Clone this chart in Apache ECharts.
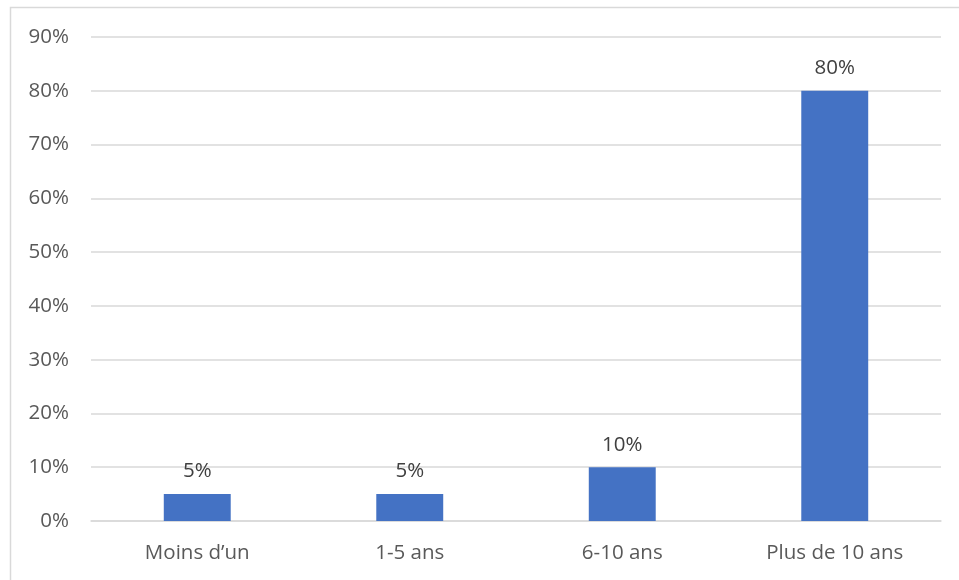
<!DOCTYPE html>
<html>
<head>
<meta charset="utf-8">
<script src="https://cdn.jsdelivr.net/npm/echarts@6/dist/echarts.min.js"></script>
<style>
html, body { margin: 0; padding: 0; background: #fff; }
#chart { width: 959px; height: 580px; }
</style>
</head>
<body>
<div id="chart"></div>
<script>
// Ancienneté : répartition des répondants
const categories = ['Moins d\u2019un', '1-5 ans', '6-10 ans', 'Plus de 10 ans'];
const values = [5, 5, 10, 80];
const yTicks = [0, 10, 20, 30, 40, 50, 60, 70, 80, 90];

const chart = echarts.init(document.getElementById('chart'), null, { renderer: 'canvas' });
const font = '"Open Sans", "Liberation Sans", sans-serif';

chart.setOption({
  animation: false,
  backgroundColor: '#ffffff',
  graphic: [{
    type: 'rect',
    shape: { x: 10.5, y: 7.5, width: 960, height: 600 },
    style: { fill: 'none', stroke: '#d9d9d9', lineWidth: 1.5 },
    silent: true
  }],
  grid: { left: 91, right: 18, top: 37, bottom: 59 },
  xAxis: {
    type: 'category',
    data: categories,
    axisLine: { show: true, lineStyle: { color: '#d9d9d9', width: 1.5 } },
    axisTick: { show: false },
    axisLabel: { color: '#595959', fontSize: 20.5, fontFamily: font, margin: 22 }
  },
  yAxis: {
    type: 'value',
    min: yTicks[0],
    max: yTicks[yTicks.length - 1],
    interval: 10,
    axisLine: { show: false },
    axisTick: { show: false },
    splitLine: { lineStyle: { color: '#d9d9d9', width: 1.5 } },
    axisLabel: { color: '#595959', fontSize: 20.5, fontFamily: font, margin: 22, formatter: v => v + '%' }
  },
  series: [{
    type: 'bar',
    data: values,
    barWidth: '31.5%',
    itemStyle: { color: '#4472c4' },
    label: {
      show: true,
      position: 'top',
      distance: 12,
      color: '#404040',
      fontSize: 20.5,
      fontFamily: font,
      formatter: p => p.value + '%'
    }
  }]
});
</script>
</body>
</html>
